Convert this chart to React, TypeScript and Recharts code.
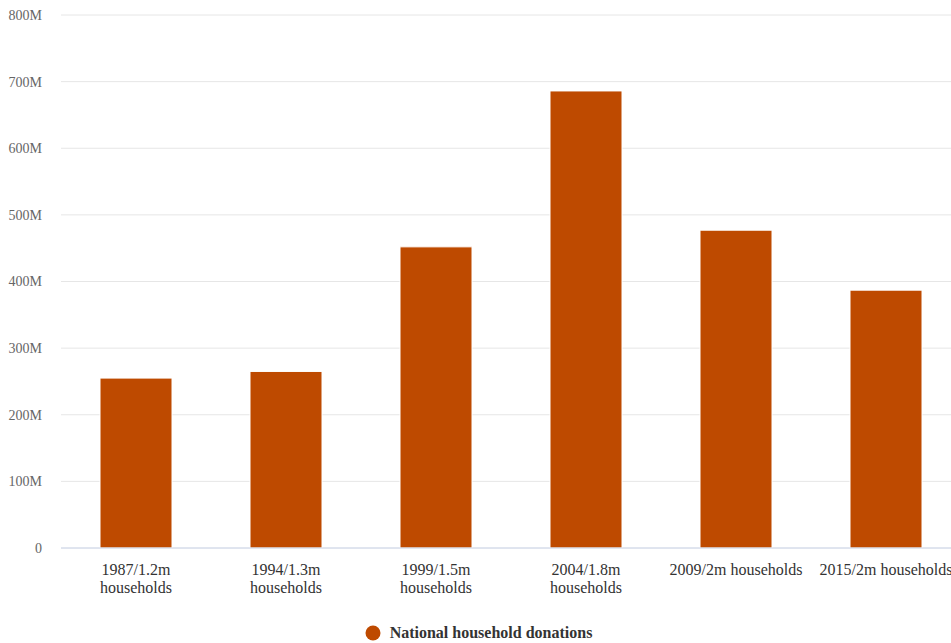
import React from "react";
import {
  BarChart,
  Bar,
  XAxis,
  YAxis,
  CartesianGrid,
  Legend,
  Text,
} from "recharts";

const categories = [
  "1987/1.2m households",
  "1994/1.3m households",
  "1999/1.5m households",
  "2004/1.8m households",
  "2009/2m households",
  "2015/2m households",
];
const donations = [255e6, 265e6, 452e6, 686e6, 477e6, 387e6];
const yTicks = [0, 100e6, 200e6, 300e6, 400e6, 500e6, 600e6, 700e6, 800e6];
const seriesName = "National household donations";

const data = categories.map((name, i) => ({ name, value: donations[i] }));

const FONT = "Liberation Serif, DejaVu Serif, serif";
const BAR_COLOR = "#be4a00";

function formatY(v: number) {
  return v === 0 ? "0" : `${v / 1e6}M`;
}

function XTick(props: any) {
  const { x, y, payload } = props;
  return (
    <Text
      x={x}
      y={y}
      width={140}
      textAnchor="middle"
      verticalAnchor="start"
      lineHeight={18}
      fontFamily={FONT}
      fontSize={16}
      style={{ fontFamily: FONT, fontSize: 16 }}
      fill="#333"
    >
      {payload.value}
    </Text>
  );
}

function LegendContent() {
  return (
    <div
      style={{
        height: 20,
        display: "flex",
        justifyContent: "center",
        alignItems: "center",
        fontFamily: FONT,
        fontSize: 16,
        fontWeight: "bold",
        color: "#333",
        paddingRight: 4,
      }}
    >
      <svg width={16} height={16} style={{ marginRight: 9 }}>
        <circle cx={8} cy={8} r={7.5} fill={BAR_COLOR} />
      </svg>
      <span>{seriesName}</span>
    </div>
  );
}

export default function App() {
  return (
    <div
      style={{
        position: "absolute",
        left: 0,
        top: 0,
        width: 951,
        height: 643,
        overflow: "hidden",
        background: "#fff",
        fontFamily: FONT,
      }}
    >
      <BarChart
        width={961}
        height={643}
        data={data}
        margin={{ top: 15, right: 0, left: 0, bottom: 0 }}
        style={{ fontFamily: FONT }}
      >
        <CartesianGrid vertical={false} stroke="#e6e6e6" />
        <XAxis
          dataKey="name"
          height={75}
          tickLine={false}
          tickSize={0}
          tickMargin={16}
          axisLine={{ stroke: "#ccd6eb" }}
          tick={<XTick />}
          interval={0}
        />
        <YAxis
          width={61}
          domain={[0, 800e6]}
          ticks={yTicks}
          tickFormatter={formatY}
          axisLine={false}
          tickLine={false}
          tickSize={0}
          tickMargin={19}
          tick={{ fill: "#666", fontSize: 14, fontFamily: FONT }}
        />
        <Legend verticalAlign="bottom" content={<LegendContent />} />
        <Bar
          dataKey="value"
          name={seriesName}
          fill={BAR_COLOR}
          stroke="#fff"
          strokeWidth={1}
          barSize={72}
          isAnimationActive={false}
        />
      </BarChart>
    </div>
  );
}
